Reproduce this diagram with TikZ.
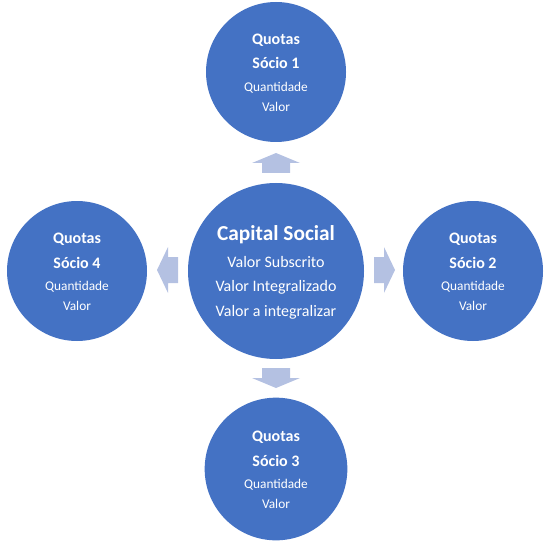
\documentclass[tikz,border=0pt]{standalone}
\usepackage{fontspec}
\setmainfont{Carlito}
\definecolor{circblue}{HTML}{4472C4}
\definecolor{arrblue}{HTML}{B4C1E2}
\begin{document}
\begin{tikzpicture}[x=0.75pt,y=-0.75pt,
  ball/.style={circle,fill=circblue,draw=none,inner sep=0pt,minimum size=105pt},
  bigball/.style={circle,fill=circblue,draw=none,inner sep=0pt,minimum size=132pt},
  head/.style={text=white,font=\fontsize{12}{14}\selectfont\bfseries,anchor=base,inner sep=0pt},
  sub/.style={text=white,font=\fontsize{10}{12}\selectfont,anchor=base,inner sep=0pt},
  ctitle/.style={text=white,font=\fontsize{16}{19}\selectfont\bfseries,anchor=base,inner sep=0pt},
  cline/.style={text=white,font=\fontsize{12}{14}\selectfont,anchor=base,inner sep=0pt},
  blockarrow/.style={fill=arrblue,draw=none}]
\useasboundingbox (0,0) rectangle (552,545);
% centre
\node[bigball] (c) at (276,271) {};
\node[ctitle] (ct) at ([yshift=31*0.75pt]c.center) {Capital Social};
\node[cline] (c1) at ([yshift=3.7*0.75pt]c.center) {Valor Subscrito};
\node[cline] (c2) at ([yshift=-20.7*0.75pt]c.center) {Valor Integralizado};
\node[cline] (c3) at ([yshift=-45*0.75pt]c.center) {Valor a integralizar};
% satellites
\node[ball] (s1) at (276,72) {};
\node[ball] (s2) at (473,271) {};
\node[ball, minimum size=107pt] (s3) at (276,469) {};
\node[ball] (s4) at (77,271) {};
\foreach \n/\k in {s1/1,s2/2,s3/3,s4/4}{
  \node[head] (\n a) at ([yshift=27.5*0.75pt]\n.center) {Quotas};
  \node[head] (\n b) at ([yshift=3*0.75pt]\n.center) {Sócio \k};
  \node[sub] (\n c) at ([yshift=-19.5*0.75pt]\n.center) {Quantidade};
  \node[sub] (\n d) at ([yshift=-39.5*0.75pt]\n.center) {Valor};
}
% block arrows
\fill[blockarrow] (276,153) -- (300,163) -- (290,163) -- (290,173) -- (262,173) -- (262,163) -- (252,163) -- cycle;
\fill[blockarrow] (276,388) -- (300,378) -- (290,378) -- (290,368) -- (262,368) -- (262,378) -- (252,378) -- cycle;
\fill[blockarrow] (157,270) -- (168,247) -- (168,257) -- (178,257) -- (178,283) -- (168,283) -- (168,293) -- cycle;
\fill[blockarrow] (395,270) -- (384,247) -- (384,257) -- (374,257) -- (374,283) -- (384,283) -- (384,293) -- cycle;
\end{tikzpicture}
\end{document}
